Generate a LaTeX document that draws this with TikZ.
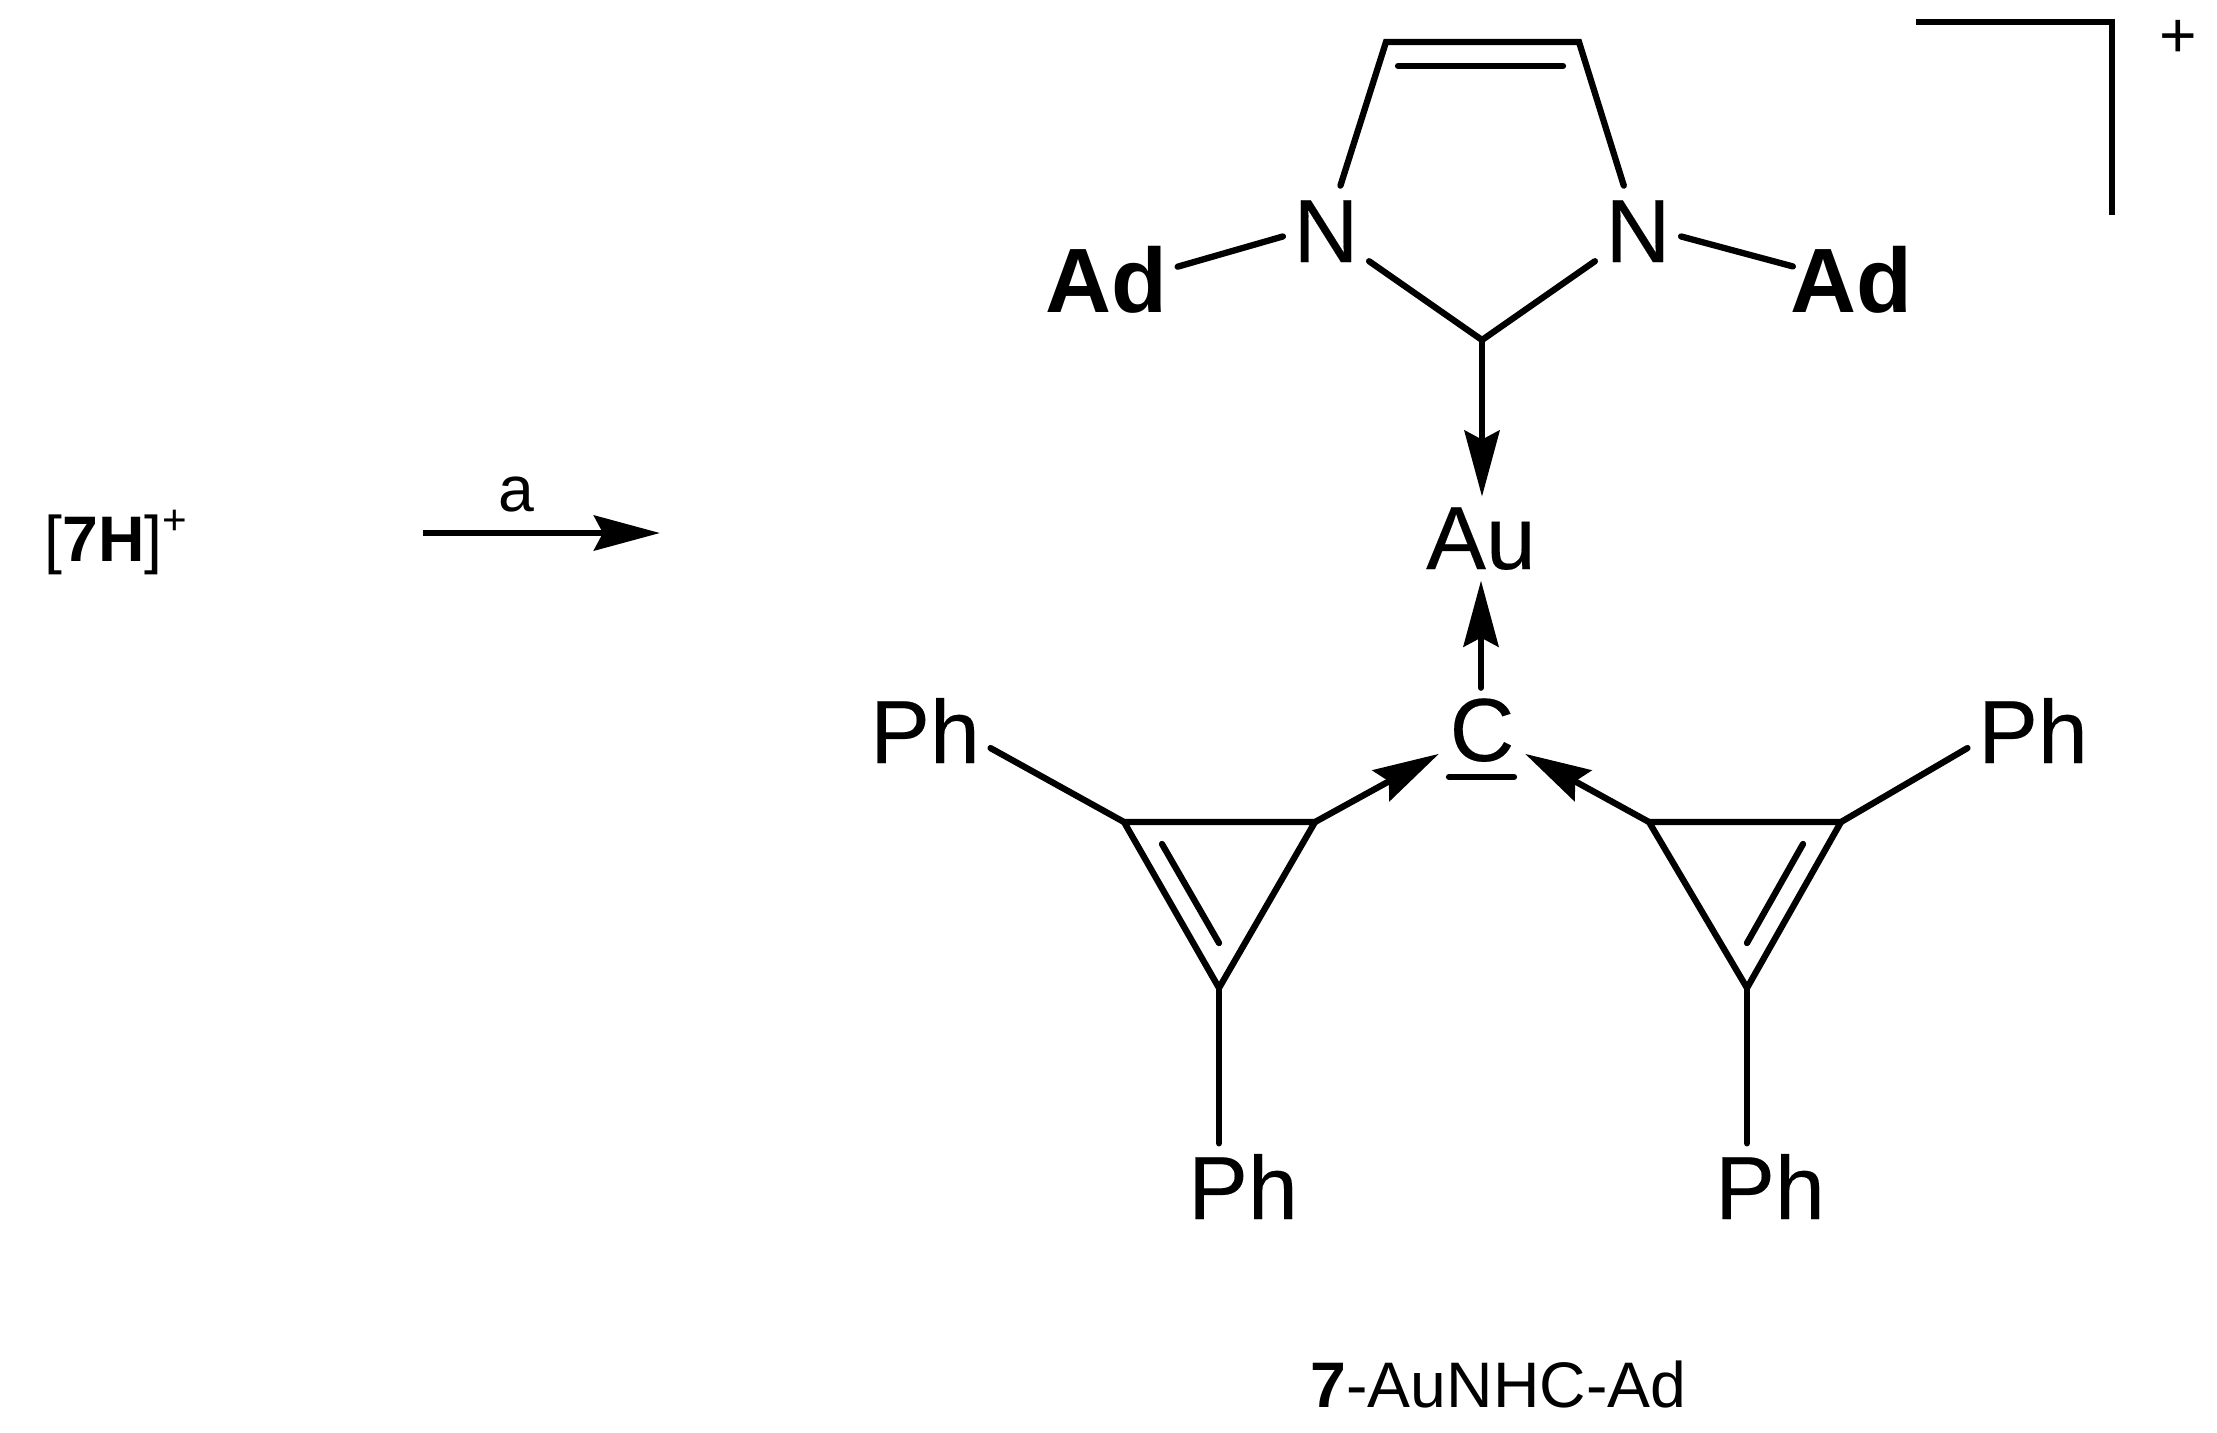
\documentclass[tikz,border=0pt]{standalone}
\usepackage{fontspec}
\setmainfont{Liberation Sans}
\newfontfamily\atomfont[FakeBold=0.2]{Liberation Sans}
\usetikzlibrary{arrows.meta,calc}
\tikzset{
  x=0.01cm,y=-0.01cm,
  bond/.style={line width=.063cm,line cap=round,line join=miter},
  dative/.style={bond,-{Stealth[length=.66cm,width=.35cm,inset=.09cm]}},
  atom/.style={inner sep=.1cm,anchor=base,font=\fontsize{25.5pt}{30pt}\atomfont},
  nitrogen/.style={atom,inner ysep=.14cm},
  boldatom/.style={atom,font=\fontsize{26pt}{30pt}\selectfont\bfseries},
  label/.style={inner sep=0pt,font=\fontsize{18.3pt}{22pt}\selectfont},
}
\begin{document}
\begin{tikzpicture}
\useasboundingbox (0,0) rectangle (2217,1432);
% atoms
\node[nitrogen] (N1) at (1326,262) {N};
\node[nitrogen] (N2) at (1638,262) {N};
\node[boldatom] (Ad1) at (1106,312) {Ad};
\node[boldatom] (Ad2) at (1851,312) {Ad};
\node[atom] (Au) at (1481,569) {Au};
\node[atom] (Cc) at (1482,761) {C};
\node[atom] (PhL) at (925,763) {Ph};
\node[atom] (PhR) at (2033,763) {Ph};
\node[atom] (PhB1) at (1243,1219) {Ph};
\node[atom] (PhB2) at (1770,1219) {Ph};
% carbon junctions
\coordinate (C4) at (1386,42);
\coordinate (C5) at (1579,42);
\coordinate (C4i) at (1398,66);
\coordinate (C5i) at (1563,66);
\coordinate (C2) at (1482,340);
\coordinate (T1a) at (1124,822);
\coordinate (T1b) at (1315,822);
\coordinate (T1c) at (1219,988);
\coordinate (T1d) at (1162,844);
\coordinate (T1e) at (1219,943);
\coordinate (T2a) at (1649,822);
\coordinate (T2b) at (1841,822);
\coordinate (T2c) at (1747,988);
\coordinate (T2d) at (1803,844);
\coordinate (T2e) at (1747,943);
\coordinate (lp1) at (1449,777);
\coordinate (lp2) at (1514,777);
\coordinate (br1) at (1916,22);
\coordinate (br2) at (2112,22);
\coordinate (br3) at (2112,215);
\coordinate (ra) at (423,533);
\coordinate (rb) at (660,533);
% imidazolylidene ring
\draw[bond] (N1) -- (C4) -- (C5) -- (N2) -- (C2) -- (N1);
\draw[bond] (C4i) -- (C5i);
\draw[bond] (N1.187) -- (Ad1.10);
\draw[bond,shorten >=-.14cm] (N2.-7) -- (Ad2.167);
% dative bonds
\draw[dative] (C2) -- (C2 |- Au.north);
\draw[dative] (Cc.north -| Au) -- (Au.south);
\draw[dative] (T1b) -- (Cc);
\draw[dative] (T2a) -- (Cc);
\draw[bond] (lp1) -- (lp2);
% cyclopropenyl rings
\draw[bond] (T1a) -- (T1b) -- (T1c) -- cycle;
\draw[bond] (T1d) -- (T1e);
\draw[bond] (T2a) -- (T2b) -- (T2c) -- cycle;
\draw[bond] (T2d) -- (T2e);
\draw[bond] (T1a) -- (PhL.-15);
\draw[bond] (T2b) -- (PhR.195);
\draw[bond] (T1c) -- (T1c |- PhB1.north);
\draw[bond] (T2c) -- (T2c |- PhB2.north);
% bracket and charge
\draw[bond,line cap=butt] (br1) -- (br2) -- (br3);
\node[label] (chg) at (2178,39) {+};
% reaction
\node[label,anchor=base west] (rct) at (44,561) {[\textbf{7H}]\raisebox{.27cm}{\fontsize{12pt}{14pt}\selectfont +}};
\draw[dative,line cap=butt] (ra) -- (rb);
\node[label,anchor=base] (cond) at (516,511) {a};
\node[label,anchor=base west] (name) at (1310,1407) {\textbf{7}-AuNHC-Ad};
\end{tikzpicture}
\end{document}
